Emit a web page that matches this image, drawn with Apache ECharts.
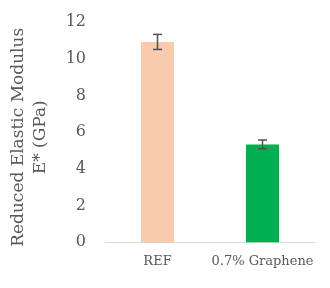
<!DOCTYPE html>
<html><head><meta charset="utf-8">
<script src="https://cdn.jsdelivr.net/npm/echarts@6/dist/echarts.min.js"></script>
<style>html,body{margin:0;padding:0;background:#fff}#c{width:330px;height:288px}</style>
</head><body><div id="c"></div>
<script>
const categories = ['REF', '0.7% Graphene'];
const values = [10.93, 5.34];
const errors = [0.41, 0.24];
const barColors = ['#F8CBAD', '#00B050'];
const yTicks = [0, 2, 4, 6, 8, 10, 12];

const chart = echarts.init(document.getElementById('c'));
const font = 'DejaVu Serif';
chart.setOption({
  animation: false,
  grid: { left: 99, right: 15, top: 22.3, bottom: 45.7 },
  xAxis: {
    type: 'category', data: categories,
    axisLine: { lineStyle: { color: '#D9D9D9', width: 1 } },
    axisTick: { show: false },
    axisLabel: { interval: 0, fontFamily: font, fontSize: 13, color: '#595959', margin: 13 }
  },
  yAxis: {
    type: 'value', min: yTicks[0], max: yTicks[yTicks.length - 1], interval: 2,
    splitLine: { show: false },
    axisLine: { show: false }, axisTick: { show: false },
    axisLabel: { fontFamily: font, fontSize: 16, color: '#595959', margin: 19 },
    name: 'Reduced Elastic Modulus\nE* (GPa)',
    nameLocation: 'middle', nameGap: 53,
    nameTextStyle: { fontFamily: font, fontSize: 17, color: '#595959', lineHeight: 22, align: 'center', padding: [0, 10, 0, 0] }
  },
  series: [
    {
      type: 'bar', barWidth: 33,
      data: values.map((v, i) => ({ value: v, itemStyle: { color: barColors[i] } }))
    },
    {
      type: 'custom',
      data: values.map((v, i) => [i, v - errors[i], v + errors[i]]),
      renderItem: function (params, api) {
        const lo = api.coord([api.value(0), api.value(1)]);
        const hi = api.coord([api.value(0), api.value(2)]);
        const hw = 4.5;
        const style = { stroke: '#505050', lineWidth: 1.5 };
        return {
          type: 'group',
          children: [
            { type: 'line', shape: { x1: hi[0], y1: hi[1], x2: lo[0], y2: lo[1] }, style },
            { type: 'line', shape: { x1: hi[0] - hw, y1: hi[1], x2: hi[0] + hw, y2: hi[1] }, style },
            { type: 'line', shape: { x1: lo[0] - hw, y1: lo[1], x2: lo[0] + hw, y2: lo[1] }, style }
          ]
        };
      },
      z: 10
    }
  ]
});
</script></body></html>
